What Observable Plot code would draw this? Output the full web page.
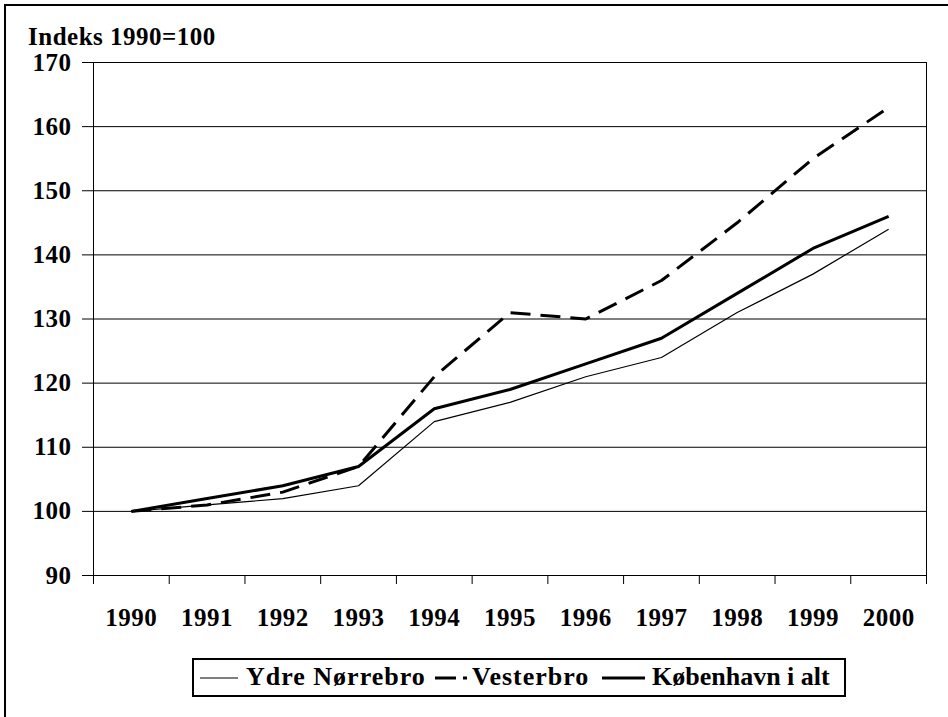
<!DOCTYPE html>
<html>
<head>
<meta charset="utf-8">
<script src="https://cdn.jsdelivr.net/npm/d3@7"></script>
<script src="https://cdn.jsdelivr.net/npm/@observablehq/plot@0.6"></script>
<style>
  body { margin: 0; background: #fff; }
  #wrap { position: relative; width: 948px; height: 717px; overflow: hidden;
          font-family: "Liberation Serif", "Times New Roman", serif; font-weight: bold; color: #000; }
  #border { position: absolute; left: 4px; top: 4px; width: 1000px; height: 800px;
            border-top: 2px solid #000; border-left: 2px solid #000; }
  #title { position: absolute; left: 28px; top: 24px; font-size: 25px; line-height: 25px;
           letter-spacing: 0.5px; white-space: nowrap; }
  #chart { position: absolute; left: 0; top: 0; }
  #legend { position: absolute; left: 192px; top: 658px; width: 650px; height: 35px;
            border: 2px solid #000; box-sizing: content-box; background: #fff;
            font-size: 26px; white-space: nowrap; }
  #legend .sample { position: absolute; top: 13px; display: block; }
  #legend .label { position: absolute; top: 4px; line-height: 26px; }
</style>
</head>
<body>
<div id="wrap">
  <div id="border"></div>
  <div id="chart"></div>
  <div id="title"></div>
  <div id="legend"></div>
</div>
<script>
// ---- data ----
const years = [1990, 1991, 1992, 1993, 1994, 1995, 1996, 1997, 1998, 1999, 2000];
const ydreNorrebro = [100, 101, 102, 104, 114, 117, 121, 124, 131, 137, 144];
const vesterbro    = [100, 101, 103, 107, 121, 131, 130, 136, 145, 155, 163];
const kobenhavn    = [100, 102, 104, 107, 116, 119, 123, 127, 134, 141, 146];
const seriesNames = ["Ydre Nørrebro", "Vesterbro", "København i alt"];
const yTicks = [90, 100, 110, 120, 130, 140, 150, 160, 170];
const yTitle = "Indeks 1990=100";

// ---- styles per series ----
const seriesStyle = {
  "Ydre Nørrebro":   { strokeWidth: 1.2, dash: null },
  "Vesterbro":       { strokeWidth: 3, dash: "20,10" },
  "København i alt": { strokeWidth: 3, dash: null }
};
const seriesValues = [ydreNorrebro, vesterbro, kobenhavn];
const data = seriesNames.flatMap((name, s) =>
  years.map((year, i) => ({ year, value: seriesValues[s][i], series: name })));

const boundaries = years.map(y => y - 0.5).concat([years[years.length - 1] + 0.5]);

const lineMarks = seriesNames.map(name => Plot.line(
  data.filter(d => d.series === name),
  { x: "year", y: "value", stroke: "#000",
    strokeWidth: seriesStyle[name].strokeWidth,
    strokeDasharray: seriesStyle[name].dash || undefined,
    strokeLinejoin: "miter", strokeLinecap: "butt" }));

const chart = Plot.plot({
  width: 948,
  height: 717,
  marginLeft: 93,
  marginRight: 22,
  marginTop: 62,
  marginBottom: 142,
  style: { fontFamily: "'Liberation Serif', 'Times New Roman', serif", fontWeight: "bold",
           fontSize: "25px", background: "transparent", color: "#000", letterSpacing: "0.5px" },
  x: { type: "linear", domain: [boundaries[0], boundaries[boundaries.length - 1]] },
  y: { domain: [yTicks[0], yTicks[yTicks.length - 1]] },
  marks: [
    Plot.ruleY(yTicks.slice(1), { stroke: "#000", strokeWidth: 1 }),
    Plot.frame({ stroke: "#000", strokeWidth: 1 }),
    Plot.axisY({ ticks: yTicks, tickSize: 11, tickPadding: 11, tickFormat: d => String(d),
                 label: null, stroke: "#000", fill: "#000" }),
    Plot.axisX({ ticks: boundaries, tickSize: 9, tickFormat: () => "", label: null, stroke: "#000" }),
    Plot.axisX({ ticks: years, tickSize: 0, tickPadding: 33, tickFormat: d => String(d),
                 label: null, fill: "#000" }),
    ...lineMarks
  ]
});
document.getElementById("chart").appendChild(chart);
document.getElementById("title").textContent = yTitle;

// ---- legend (positions relative to the legend box) ----
const legend = document.getElementById("legend");
const legendLayout = {
  "Ydre Nørrebro":   { sx: 6,   sw: 38, tx: 52,  ls: 1,   dash: null },
  "Vesterbro":       { sx: 241, sw: 32, tx: 278, ls: 1,   dash: "21,7,4,100" },
  "København i alt": { sx: 408, sw: 43, tx: 458, ls: 0,   dash: null }
};
seriesNames.forEach(name => {
  const L = legendLayout[name];
  const st = seriesStyle[name];
  const svg = document.createElementNS("http://www.w3.org/2000/svg", "svg");
  svg.setAttribute("class", "sample");
  svg.setAttribute("width", L.sw);
  svg.setAttribute("height", 10);
  svg.style.left = L.sx + "px";
  svg.innerHTML = `<line x1="0" x2="${L.sw}" y1="5" y2="5" stroke="#000" stroke-width="${st.strokeWidth}" ${L.dash ? `stroke-dasharray="${L.dash}"` : ""}/>`;
  legend.appendChild(svg);
  const span = document.createElement("span");
  span.className = "label";
  span.style.left = L.tx + "px";
  span.style.letterSpacing = L.ls + "px";
  span.textContent = name;
  legend.appendChild(span);
});
</script>
</body>
</html>
